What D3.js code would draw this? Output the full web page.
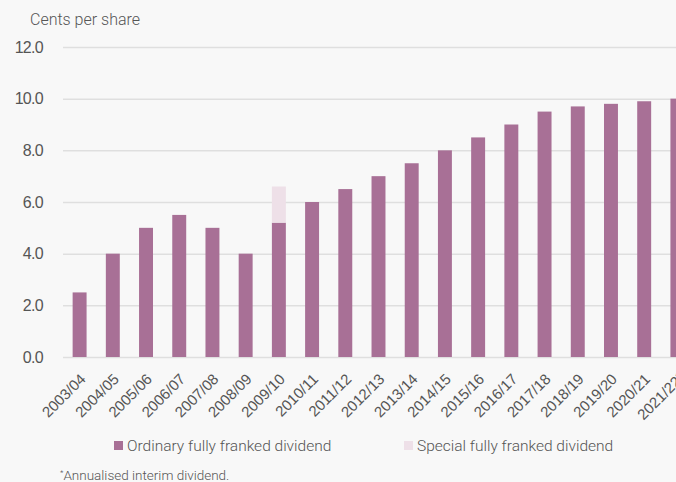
<!DOCTYPE html>
<meta charset="utf-8">
<style>
body { margin: 0; background: #f8f8f8; }
svg { font-family: Roboto, "Open Sans", sans-serif; font-weight: 300; }
.grid line { stroke: #dfdfdf; stroke-width: 1.5; }
.grid path { display: none; }
.axis text { fill: #555; }
.axis path, .axis line { display: none; }
</style>
<svg width="676" height="482"></svg>
<script src="https://d3js.org/d3.v7.min.js"></script>
<script>

var years = ["2003/04", "2004/05", "2005/06", "2006/07", "2007/08", "2008/09", "2009/10",
  "2010/11", "2011/12", "2012/13", "2013/14", "2014/15", "2015/16", "2016/17", "2017/18",
  "2018/19", "2019/20", "2020/21", "2021/22*"];
var ordinary = [2.5, 4.0, 5.0, 5.5, 5.0, 4.0, 5.2, 6.0, 6.5, 7.0, 7.5, 8.0, 8.5, 9.0, 9.5, 9.7, 9.8, 9.9, 10.0];
var special = [0, 0, 0, 0, 0, 0, 1.4, 0, 0, 0, 0, 0, 0, 0, 0, 0, 0, 0, 0];
var yTicks = [0, 2, 4, 6, 8, 10, 12];
var seriesNames = ["Ordinary fully franked dividend", "Special fully franked dividend"];
var colors = ["#a87096", "#eee0e8"];

var svg = d3.select("svg"),
    margin = {top: 47, left: 63},
    width = 631,
    height = 310;

var x = d3.scaleBand().domain(years).range([0, width]).paddingInner(0.58).paddingOuter(0.29),
    y = d3.scaleLinear().domain([0, 12]).range([height, 0]);

var g = svg.append("g")
    .attr("transform", "translate(" + margin.left + "," + margin.top + ")");

g.append("g")
    .attr("class", "grid")
    .call(d3.axisLeft(y).tickValues(yTicks).tickSize(-width).tickFormat(""));

g.append("g")
    .attr("class", "axis")
    .attr("transform", "translate(-17,0)")
    .call(d3.axisLeft(y).tickValues(yTicks).tickSize(0).tickFormat(d3.format(".1f")))
    .selectAll("text")
    .style("font-size", "16px")
    .style("letter-spacing", "-0.7px");

var data = years.map(function(d, i) {
  return {year: d, ordinary: ordinary[i], special: special[i]};
});
var stack = d3.stack().keys(["ordinary", "special"])(data);

g.selectAll(".series")
  .data(stack)
  .enter().append("g")
    .attr("fill", function(d, i) { return colors[i]; })
  .selectAll("rect")
  .data(function(d) { return d; })
  .enter().append("rect")
    .attr("x", function(d) { return x(d.data.year); })
    .attr("y", function(d) { return y(d[1]); })
    .attr("width", x.bandwidth())
    .attr("height", function(d) { return y(d[0]) - y(d[1]); });

// rotated year labels, the asterisk drawn as a superscript
var xAxis = g.append("g")
    .attr("class", "axis")
    .attr("transform", "translate(0," + height + ")")
    .call(d3.axisBottom(x).tickSize(0).tickFormat(""));
xAxis.selectAll(".tick").append("text")
    .attr("fill", "#555")
    .style("font-size", "15px")
    .style("text-anchor", "end")
    .attr("transform", "translate(7,23) rotate(-45)")
    .each(function(d) {
      var t = d3.select(this);
      t.append("tspan").text(d.replace("*", ""));
      if (d.indexOf("*") >= 0) {
        t.append("tspan").attr("dy", "-0.45em").style("font-size", "9px").text("*");
      }
    });

svg.append("text")
    .attr("x", 30)
    .attr("y", 25)
    .attr("fill", "#555")
    .style("font-size", "16px")
    .text("Cents per share");

var legend = svg.selectAll(".legend")
  .data(seriesNames)
  .enter().append("g")
    .attr("transform", function(d, i) { return "translate(" + [114, 404][i] + ",441)"; });
legend.append("rect")
    .attr("width", 9).attr("height", 9)
    .attr("fill", function(d, i) { return colors[i]; });
legend.append("text")
    .attr("x", 13).attr("y", 10)
    .attr("fill", "#555")
    .style("font-size", "15.5px")
    .text(function(d) { return d; });

var note = svg.append("text")
    .attr("x", 60).attr("y", 478)
    .attr("fill", "#555")
    .style("font-size", "13.5px");
note.append("tspan").attr("dy", "-0.4em").style("font-size", "8px").text("*");
note.append("tspan").attr("dy", "0.4em").text("Annualised interim dividend.");

</script>
